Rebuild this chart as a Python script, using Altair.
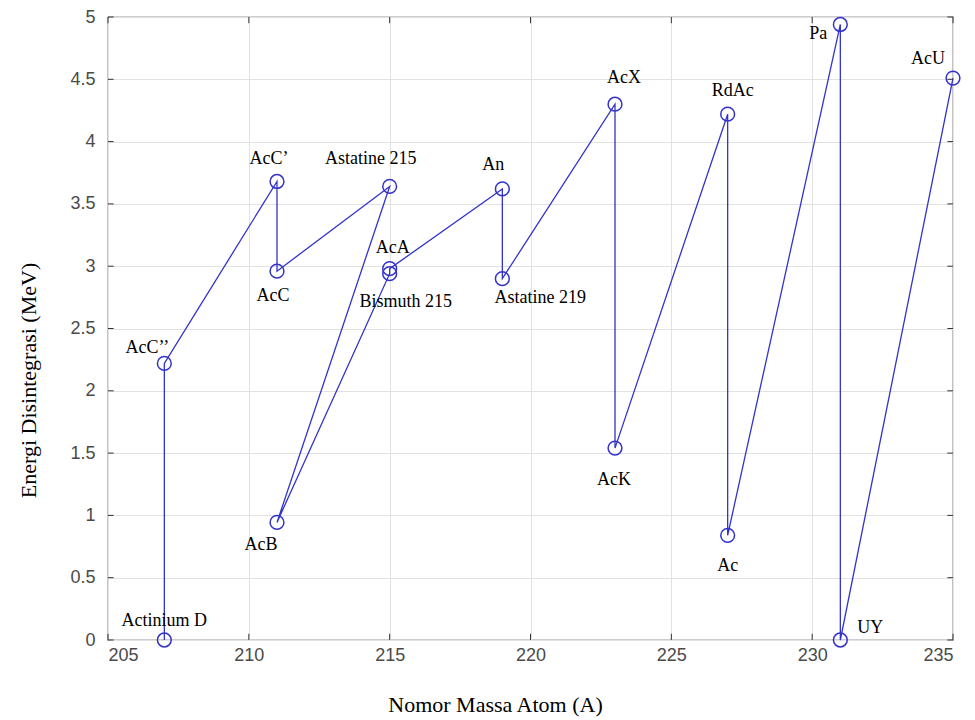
import altair as alt
import pandas as pd

# ---- data ----
names = ["AcU", "UY", "Pa", "Ac", "RdAc", "AcK", "AcX", "Astatine 219", "An",
         "AcA", "Bismuth 215", "AcB", "Astatine 215", "AcC", "AcC’", "AcC’’",
         "Actinium D"]
mass = [235, 231, 231, 227, 227, 223, 223, 219, 219, 215, 215, 211, 215, 211,
        211, 207, 207]
energy = [4.51, 0.0, 4.94, 0.84, 4.22, 1.54, 4.30, 2.90, 3.62, 2.98, 2.94,
          0.944, 3.64, 2.96, 3.68, 2.22, 0.0]
# label offsets (pixels) relative to each point
label_dx = [-25, 30, -22, 0, 5, -1, 9, 38, -9, 3, 16, -16, -19, -4, -8, -17, 0]
label_dy = [-19, -12, 10, 31, -23, 32, -26, 19, -24, -21, 28, 23, -27, 25, -22, -15, -19]

x_ticks = [205, 210, 215, 220, 225, 230, 235]
y_ticks = [0, 0.5, 1, 1.5, 2, 2.5, 3, 3.5, 4, 4.5, 5]

BLUE = "#3333cc"
TICK_Y = 0.05   # inward tick length in y units
TICK_X = 0.2    # inward tick length in x units

df = pd.DataFrame({"name": names, "A": mass, "E": energy,
                   "order": list(range(len(names)))})

xs = alt.Scale(domain=[205, 235], nice=False, zero=False)
ys = alt.Scale(domain=[0, 5], nice=False)

x_axis = alt.Axis(values=x_ticks, tickSize=0, domain=False,
                  labelFont="Liberation Sans", labelFontSize=18,
                  labelColor="#4a4a4a", labelPadding=6,
                  title="Nomor Massa Atom (A)", titleFont="Liberation Serif",
                  titleFontSize=22, titleFontWeight="normal", titleColor="black",
                  titleX=387, titleY=71, titleBaseline="alphabetic",
                  titleAnchor="start", titleAlign="center",
                  grid=True, gridColor="#e2e2e2", gridWidth=1)
y_axis = alt.Axis(values=y_ticks, tickSize=0, domain=False, format="~g",
                  labelFont="Liberation Sans", labelFontSize=18,
                  labelColor="#4a4a4a", labelPadding=13,
                  title="Energi Disintegrasi (MeV)", titleFont="Liberation Serif",
                  titleFontSize=22, titleFontWeight="normal", titleColor="black",
                  titleAngle=270, titleX=-80, titleY=363, titleAlign="center",
                  titleBaseline="middle", titleAnchor="start",
                  grid=True, gridColor="#e2e2e2", gridWidth=1)

X = lambda f: alt.X(f, scale=xs, axis=x_axis)
Y = lambda f: alt.Y(f, scale=ys, axis=y_axis)

base = alt.Chart(df)

line = base.mark_line(color=BLUE, strokeWidth=1.3).encode(
    x=X("A:Q"), y=Y("E:Q"), order="order:Q",
)

pts = base.mark_point(shape="circle", size=190, filled=False, color=BLUE,
                      strokeWidth=1.5, opacity=1).encode(x=X("A:Q"), y=Y("E:Q"))

label_layers = []
for nm, dx, dy in zip(names, label_dx, label_dy):
    label_layers.append(
        base.transform_filter(alt.datum.name == nm).mark_text(
            font="Liberation Serif", fontSize=18, color="black",
            align="center", baseline="middle", dx=dx, dy=dy,
        ).encode(x=X("A:Q"), y=Y("E:Q"), text="name:N")
    )

# inward ticks (MATLAB style) on all four sides
xt = pd.DataFrame({"t": x_ticks * 2,
                   "a": [0] * len(x_ticks) + [5] * len(x_ticks),
                   "b": [TICK_Y] * len(x_ticks) + [5 - TICK_Y] * len(x_ticks)})
yt = pd.DataFrame({"t": y_ticks * 2,
                   "a": [205] * len(y_ticks) + [235] * len(y_ticks),
                   "b": [205 + TICK_X] * len(y_ticks) + [235 - TICK_X] * len(y_ticks)})

xticks = alt.Chart(xt).mark_rule(color="#333333", strokeWidth=1).encode(
    x=X("t:Q"), y=Y("a:Q"), y2="b:Q",
)
yticks = alt.Chart(yt).mark_rule(color="#333333", strokeWidth=1).encode(
    y=Y("t:Q"), x=X("a:Q"), x2="b:Q",
)

chart = alt.layer(line, xticks, yticks, pts, *label_layers).properties(
    width=845, height=623,
    padding={"left": 100, "top": 9, "right": 14, "bottom": 80},
    autosize=alt.AutoSizeParams(type="none"),
    background="white",
).configure_view(stroke="#3a3a3a", strokeWidth=1.2)

chart.save("out.html", embed_options={"renderer": "svg", "actions": False})
